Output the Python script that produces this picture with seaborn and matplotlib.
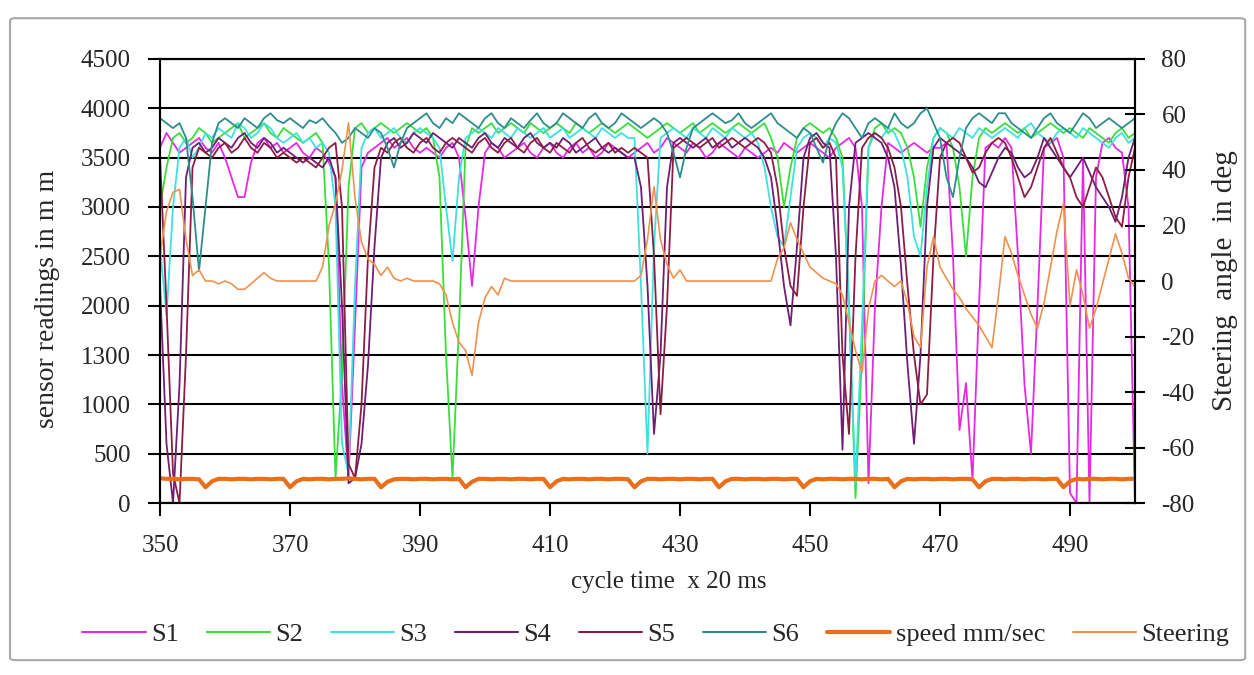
import numpy as np
import pandas as pd
import matplotlib
matplotlib.use("Agg")
import matplotlib.pyplot as plt
from matplotlib.patches import FancyBboxPatch
from matplotlib.lines import Line2D
import seaborn as sns

# ---------------- data ----------------
cycle = list(range(350, 501))

s1 = [3600, 3750, 3650, 3550, 3600, 3650, 3700, 3600, 3550, 3650,
      3500, 3300, 3100, 3100, 3450, 3650, 3700, 3600, 3650, 3550,
      3600, 3650, 3550, 3500, 3600, 3550, 3450, 3300, 1200, 250,
      1800, 3400, 3550, 3600, 3650, 3700, 3600, 3650, 3700, 3600,
      3550, 3600, 3550, 3500, 3600, 3650, 3500, 2900, 2200, 3000,
      3550, 3650, 3600, 3500, 3550, 3600, 3650, 3550, 3500, 3600,
      3650, 3550, 3500, 3600, 3650, 3550, 3600, 3500, 3550, 3650,
      3600, 3550, 3500, 3550, 3600, 3650, 3550, 3600, 3700, 3650,
      3600, 3550, 3650, 3600, 3500, 3550, 3650, 3600, 3550, 3500,
      3600, 3550, 3500, 3550, 3600, 3550, 3650, 3600, 3550, 3600,
      3650, 3600, 3550, 3500, 3600, 3650, 3700, 3600, 3000, 200,
      2000, 3000, 3650, 3600, 3550, 3600, 3650, 3600, 3550, 3600,
      3600, 3650, 2500, 740, 1215, 230, 2000, 3600, 3650, 3600,
      3700, 3600, 2500, 1200, 500, 2000, 3600, 3650, 3700, 3500,
      100, 0, 3500, 0, 3300, 3650, 3700, 3600, 3550, 3000,
      0]

s2 = [3000, 3400, 3700, 3750, 3650, 3700, 3800, 3750, 3650, 3700,
      3750, 3800, 3850, 3700, 3750, 3800, 3850, 3750, 3700, 3800,
      3750, 3700, 3650, 3700, 3750, 3650, 2400, 250, 1300, 3200,
      3800, 3850, 3750, 3800, 3850, 3800, 3750, 3800, 3850, 3800,
      3750, 3800, 3700, 3300, 1500, 250, 1800, 3600, 3800, 3750,
      3800, 3850, 3750, 3800, 3850, 3800, 3750, 3850, 3800, 3750,
      3800, 3850, 3800, 3750, 3850, 3800, 3750, 3800, 3850, 3800,
      3750, 3800, 3850, 3800, 3750, 3700, 3750, 3800, 3850, 3800,
      3750, 3800, 3850, 3750, 3800, 3850, 3800, 3750, 3800, 3850,
      3800, 3750, 3800, 3850, 3700, 3500, 3000, 3400, 3700, 3800,
      3850, 3800, 3750, 3800, 3700, 3500, 2000, 50, 1500, 3600,
      3800, 3850, 3750, 3800, 3750, 3600, 3300, 2800, 3400, 3700,
      3800, 3750, 3600, 3200, 2500, 3300, 3700, 3800, 3750, 3800,
      3850, 3800, 3750, 3800, 3700, 3750, 3800, 3850, 3800, 3750,
      3800, 3750, 3700, 3800, 3750, 3700, 3650, 3750, 3800, 3700,
      3750]

s3 = [2600, 1900, 3000, 3600, 3700, 3500, 3600, 3750, 3700, 3800,
      3750, 3700, 3850, 3800, 3700, 3750, 3850, 3800, 3700, 3650,
      3700, 3750, 3650, 3700, 3600, 3650, 3550, 3000, 600, 300,
      2200, 3600, 3750, 3800, 3700, 3750, 3800, 3700, 3650, 3750,
      3800, 3750, 3700, 3600, 3000, 2450, 3300, 3700, 3750, 3800,
      3750, 3700, 3800, 3750, 3700, 3800, 3750, 3700, 3750, 3800,
      3700, 3750, 3800, 3700, 3750, 3800, 3750, 3700, 3800, 3750,
      3700, 3750, 3700, 3700, 2200, 500, 2600, 3700, 3750, 3800,
      3750, 3700, 3800, 3750, 3700, 3800, 3750, 3700, 3800, 3750,
      3700, 3750, 3650, 3400, 3000, 2700, 2600, 3100, 3600, 3700,
      3750, 3700, 3600, 3700, 3650, 3400, 2000, 200, 1800, 3600,
      3750, 3700, 3800, 3750, 3600, 3300, 2700, 2500, 3200, 3700,
      3800, 3750, 3700, 3800, 3750, 3700, 3800, 3750, 3700, 3750,
      3800, 3750, 3700, 3800, 3850, 3750, 3700, 3650, 3750, 3800,
      3750, 3700, 3800, 3750, 3700, 3650, 3600, 3700, 3750, 3650,
      3700]

s4 = [2200, 600, 0, 1200, 3300, 3600, 3650, 3550, 3600, 3700,
      3650, 3600, 3700, 3750, 3650, 3600, 3700, 3650, 3550, 3600,
      3550, 3500, 3450, 3500, 3450, 3400, 3500, 3300, 2000, 200,
      250, 600, 1400, 2600, 3500, 3650, 3700, 3600, 3650, 3750,
      3700, 3650, 3750, 3700, 3650, 3600, 3700, 3650, 3600, 3700,
      3750, 3650, 3600, 3700, 3650, 3600, 3700, 3750, 3650, 3600,
      3650, 3600, 3700, 3650, 3550, 3600, 3650, 3700, 3600, 3550,
      3600, 3550, 3500, 3500, 3200, 2200, 700, 1500, 3200, 3650,
      3700, 3650, 3600, 3650, 3700, 3600, 3650, 3700, 3600, 3650,
      3700, 3650, 3600, 3500, 3300, 2800, 2200, 1800, 2600, 3500,
      3700, 3750, 3650, 3600, 2500, 540, 3000, 3650, 3700, 3750,
      3700, 3650, 3500, 3200, 2400, 1400, 600, 1500, 3000, 3600,
      3700, 3650, 3600, 3550, 3500, 3400, 3250, 3200, 3350, 3500,
      3600, 3550, 3400, 3300, 3350, 3500, 3700, 3600, 3500, 3400,
      3300, 3400, 3500, 3350, 3200, 3100, 3000, 2850, 3100, 3500,
      3700]

s5 = [3500, 2000, 300, 0, 1500, 3400, 3600, 3550, 3500, 3600,
      3650, 3550, 3600, 3700, 3600, 3550, 3650, 3600, 3500, 3550,
      3500, 3450, 3500, 3450, 3400, 3500, 3600, 3650, 3000, 400,
      250, 1000, 2500, 3400, 3600, 3550, 3650, 3700, 3600, 3550,
      3650, 3700, 3600, 3550, 3650, 3700, 3650, 3600, 3550, 3650,
      3700, 3600, 3550, 3650, 3700, 3600, 3550, 3650, 3700, 3600,
      3550, 3650, 3600, 3550, 3650, 3700, 3600, 3550, 3600, 3650,
      3550, 3600, 3550, 3600, 3550, 3500, 2500, 900, 2000, 3600,
      3650, 3700, 3650, 3600, 3650, 3700, 3600, 3650, 3700, 3650,
      3600, 3650, 3700, 3650, 3550, 3200, 2600, 2200, 2100, 3000,
      3650, 3700, 3600, 3650, 3500, 1500, 700, 2500, 3600, 3700,
      3750, 3700, 3600, 3400, 3000, 2200, 1500, 1000, 1100, 2500,
      3500, 3650, 3700, 3650, 3500, 3350, 3400, 3550, 3650, 3700,
      3650, 3500, 3300, 3100, 3200, 3400, 3600, 3700, 3550, 3400,
      3300, 3100, 3000, 3200, 3400, 3300, 3100, 2900, 2800, 3300,
      3600]

s6 = [3900, 3850, 3800, 3850, 3700, 3100, 2350, 3000, 3650, 3850,
      3900, 3850, 3800, 3900, 3850, 3800, 3900, 3950, 3880, 3850,
      3900, 3850, 3800, 3880, 3850, 3900, 3820, 3750, 3650, 3700,
      3800, 3750, 3700, 3800, 3750, 3600, 3400, 3650, 3800, 3850,
      3900, 3950, 3850, 3800, 3900, 3850, 3950, 3900, 3850, 3800,
      3900, 3950, 3850, 3800, 3900, 3850, 3800, 3880, 3950, 3850,
      3800, 3850, 3950, 3900, 3850, 3800, 3900, 3950, 3850, 3800,
      3850, 3950, 3900, 3850, 3800, 3850, 3900, 3850, 3750, 3550,
      3300, 3600, 3800, 3850, 3900, 3950, 3900, 3850, 3880, 3950,
      3850, 3800, 3850, 3900, 3950, 3850, 3800, 3750, 3700, 3800,
      3750, 3600, 3450, 3700, 3850, 3950, 3900, 3800, 3700, 3850,
      3900, 3850, 3800, 3950, 3850, 3800, 3850, 3950, 4000, 3850,
      3700, 3300, 3100, 3500, 3800, 3900, 3950, 3900, 3850, 3950,
      3950, 3850, 3800, 3750, 3700, 3800, 3900, 3950, 3850, 3800,
      3750, 3850, 3950, 3900, 3800, 3850, 3900, 3850, 3800, 3850,
      3900]

speed = [250, 245, 245, 240, 245, 245, 240, 160, 220, 245,
         245, 240, 245, 245, 240, 245, 245, 240, 245, 245,
         160, 220, 245, 240, 245, 245, 240, 245, 245, 250,
         245, 240, 245, 245, 160, 215, 240, 245, 245, 240,
         245, 245, 240, 245, 245, 240, 245, 160, 215, 245,
         245, 240, 245, 245, 240, 245, 245, 240, 245, 245,
         160, 220, 245, 240, 245, 245, 240, 245, 245, 240,
         245, 245, 240, 160, 220, 245, 245, 240, 245, 245,
         240, 245, 245, 240, 245, 245, 160, 220, 245, 245,
         240, 245, 245, 240, 245, 245, 240, 245, 245, 160,
         220, 245, 240, 245, 245, 240, 245, 245, 240, 245,
         245, 240, 245, 160, 220, 245, 240, 245, 245, 240,
         245, 245, 240, 245, 245, 240, 160, 220, 245, 245,
         240, 245, 245, 240, 245, 245, 240, 245, 245, 160,
         220, 245, 240, 245, 245, 240, 245, 245, 240, 245,
         245]

steering = [9, 25, 32, 33, 15, 2, 4, 0, 0, -1,
            0, -1, -3, -3, -1, 1, 3, 1, 0, 0,
            0, 0, 0, 0, 0, 5, 20, 28, 40, 57,
            30, 14, 8, 6, 2, 5, 1, 0, 1, 0,
            0, 0, 0, -1, -5, -15, -22, -25, -34, -15,
            -6, -2, -5, 1, 0, 0, 0, 0, 0, 0,
            0, 0, 0, 0, 0, 0, 0, 0, 0, 0,
            0, 0, 0, 0, 2, 15, 34, 15, 6, 1,
            4, 0, 0, 0, 0, 0, 0, 0, 0, 0,
            0, 0, 0, 0, 0, 8, 12, 21, 15, 10,
            5, 3, 1, 0, -1, -5, -15, -25, -33, -10,
            0, 2, 0, -2, 0, -8, -20, -24, 5, 16,
            5, 1, -3, -6, -10, -13, -16, -20, -24, -5,
            16, 10, 2, -5, -12, -17, -8, 5, 18, 28,
            -9, 4, -5, -17, -10, -1, 8, 17, 10, 1,
            -2]

sensor_names = ["S1", "S2", "S3", "S4", "S5", "S6"]
left_ticks = [0, 500, 1000, 1500, 2000, 2500, 3000, 3500, 4000, 4500]
left_tick_labels = ["0", "500", "1000", "1300", "2000", "2500", "3000", "3500", "4000", "4500"]
right_ticks = [-80, -60, -40, -20, 0, 20, 40, 60, 80]
x_ticks = [350, 370, 390, 410, 430, 450, 470, 490]

# ---------------- style ----------------
sns.set_theme(style="white")
plt.rcParams["font.family"] = ["Liberation Serif", "DejaVu Serif"]
plt.rcParams["axes.unicode_minus"] = False

colors = {"S1": "#e42ae4", "S2": "#3ade3a", "S3": "#3ee0e0",
          "S4": "#6e1f74", "S5": "#8e1d42", "S6": "#2f8c8c"}
speed_color = "#e8701c"
steer_color = "#f0924e"

sensors = pd.DataFrame({
    "cycle": cycle * 6,
    "value": s1 + s2 + s3 + s4 + s5 + s6,
    "sensor": sum([[n] * len(cycle) for n in sensor_names], []),
})
speed_df = pd.DataFrame({"cycle": cycle, "speed": speed})
steer_df = pd.DataFrame({"cycle": cycle, "steering": steering})

fig = plt.figure(figsize=(12.54, 6.75), dpi=100)
ax = fig.add_axes([0.1276, 0.2548, 0.9051 - 0.1276, 0.9126 - 0.2548])

sns.lineplot(data=sensors, x="cycle", y="value", hue="sensor", hue_order=sensor_names,
             palette=colors, estimator=None, linewidth=1.3, ax=ax, legend=False)
sns.lineplot(data=speed_df, x="cycle", y="speed", color=speed_color, linewidth=3.0,
             estimator=None, ax=ax, legend=False)

ax2 = ax.twinx()
sns.lineplot(data=steer_df, x="cycle", y="steering", color=steer_color, linewidth=1.2,
             estimator=None, ax=ax2, legend=False)

ax.set_xlim(350, 500)
ax.set_ylim(0, 4500)
ax2.set_ylim(-80, 80)
ax.set_xticks(x_ticks)
ax.set_yticks(left_ticks)
ax.set_yticklabels(left_tick_labels)
ax2.set_yticks(right_ticks)

ax.grid(axis="y", color="black", linewidth=1.5)
ax.grid(axis="x", visible=False)
ax2.grid(False)
for a in (ax, ax2):
    for s in a.spines.values():
        s.set_color("black")
        s.set_linewidth(1.5)
ax.set_facecolor("white")

FS = 18
ax.tick_params(axis="y", direction="out", length=9, width=1.5, color="black",
               labelsize=FS, pad=12, left=True)
ax.tick_params(axis="x", direction="out", length=9, width=1.5, color="black",
               labelsize=FS, pad=14, bottom=True)
ax2.tick_params(axis="y", direction="inout", length=14, width=1.5, color="black",
                labelsize=FS, pad=12, right=True)

ax.set_xlabel("cycle time  x 20 ms", fontsize=18)
ax.set_ylabel("sensor readings in m m", fontsize=20)
ax2.set_ylabel("Steering  angle  in deg", fontsize=21)
ax.xaxis.set_label_coords(0.522, -0.152)
ax.yaxis.set_label_coords(-0.103, 0.46)
ax2.yaxis.set_label_coords(1.079, 0.50)

handles = [Line2D([], [], color=colors[n], linewidth=1.5) for n in sensor_names]
handles.append(Line2D([], [], color=speed_color, linewidth=3.0))
handles.append(Line2D([], [], color=steer_color, linewidth=1.5))
labels = sensor_names + ["speed mm/sec", "Steering"]
fig.legend(handles, labels, loc="center", bbox_to_anchor=(0.523, 0.06), ncol=8,
           frameon=False, fontsize=19, handlelength=2.4, columnspacing=1.05,
           handletextpad=0.2)

border = FancyBboxPatch((0.008, 0.022), 0.985, 0.951, boxstyle="round,pad=0,rounding_size=0.004",
                        transform=fig.transFigure, facecolor="none", edgecolor="#a8a8a8",
                        linewidth=1.5)
fig.patches.append(border)

fig.savefig("out.png", dpi=100)
